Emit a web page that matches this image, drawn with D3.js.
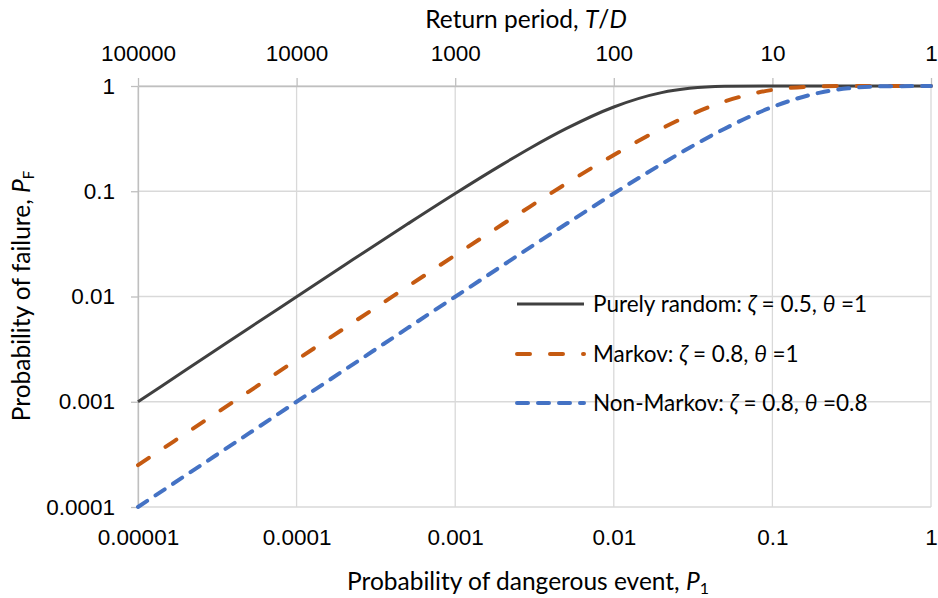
<!DOCTYPE html>
<html>
<head>
<meta charset="utf-8">
<script src="https://cdn.jsdelivr.net/npm/d3@7"></script>
<style>
  body { margin: 0; background: #fff; }
  svg { display: block; font-family: Lato, "Open Sans", sans-serif; }
</style>
</head>
<body>
<svg id="chart" width="938" height="598"></svg>
<script>
// probability of dangerous event (x axis)
const p1 = [1e-5, 2e-5, 3e-5, 5e-5, 1e-4, 2e-4, 3e-4, 5e-4, 1e-3, 2e-3, 3e-3, 5e-3,
            0.01, 0.02, 0.03, 0.05, 0.1, 0.2, 0.3, 0.5, 1]

// probability of failure
const purelyRandom = [0.001, 0.002, 0.003, 0.005, 0.00995, 0.0198, 0.0296, 0.0488, 0.0952, 0.181, 0.259, 0.393,
                      0.632, 0.865, 0.950, 0.993, 1, 1, 1, 1, 1]
const markov = [0.00025, 0.0005, 0.00075, 0.00125, 0.0025, 0.00499, 0.00747, 0.0124, 0.0247, 0.0488, 0.0723, 0.118,
                0.221, 0.394, 0.528, 0.713, 0.918, 0.993, 0.999, 1, 1]
const nonMarkov = [0.0001, 0.0002, 0.0003, 0.0005, 0.001, 0.002, 0.003, 0.005, 0.00995, 0.0198, 0.0296, 0.0488,
                   0.0952, 0.181, 0.259, 0.393, 0.632, 0.865, 0.950, 0.993, 1]

const xTicks = [1e-5, 1e-4, 1e-3, 1e-2, 1e-1, 1]
const xTickLabels = ["0.00001", "0.0001", "0.001", "0.01", "0.1", "1"]
const yTicks = [1e-4, 1e-3, 1e-2, 1e-1, 1]
const yTickLabels = ["0.0001", "0.001", "0.01", "0.1", "1"]
const topTicks = [100000, 10000, 1000, 100, 10, 1]

const series = [
    { name: "Purely random", zeta: "0.5", theta: "1", values: purelyRandom, color: "#404040", width: 3, dash: null },
    { name: "Markov", zeta: "0.8", theta: "1", values: markov, color: "#C55A11", width: 4, dash: "13,20" },
    { name: "Non-Markov", zeta: "0.8", theta: "0.8", values: nonMarkov, color: "#4472C4", width: 4, dash: "11,10" }
]

const plotLeft = 138, plotRight = 931, plotTop = 86, plotBottom = 507
const tickFont = 22.5, titleFont = 24.5
const svg = d3.select("#chart")

const x = d3.scaleLog().domain([1e-5, 1]).range([plotLeft, plotRight])
const y = d3.scaleLog().domain([1e-4, 1]).range([plotBottom, plotTop])
const xTop = d3.scaleLog().domain([1e5, 1]).range([plotLeft, plotRight])

// grid
svg.append("g")
    .selectAll("line")
    .data(xTicks)
    .join("line")
    .attr("x1", d => x(d)).attr("x2", d => x(d))
    .attr("y1", plotTop).attr("y2", plotBottom)
    .attr("stroke", "#d9d9d9").attr("stroke-width", 1.3)

svg.append("g")
    .selectAll("line")
    .data(yTicks)
    .join("line")
    .attr("x1", plotLeft).attr("x2", plotRight)
    .attr("y1", d => y(d)).attr("y2", d => y(d))
    .attr("stroke", "#d9d9d9").attr("stroke-width", 1.3)

// left axis with outward ticks
const yAxis = svg.append("g")
    .attr("transform", `translate(${plotLeft},0)`)
    .call(d3.axisLeft(y).tickValues(yTicks).tickSize(7).tickSizeOuter(0).tickPadding(16)
        .tickFormat((d, i) => yTickLabels[i]))
yAxis.select(".domain").attr("stroke", "#bfbfbf").attr("stroke-width", 1.3)
yAxis.selectAll(".tick line").attr("stroke", "#bfbfbf").attr("stroke-width", 1.3)
yAxis.selectAll("text").attr("font-size", tickFont).attr("fill", "#000").attr("font-family", null)

// top axis: return period
const topAxis = svg.append("g")
    .attr("transform", `translate(0,${plotTop})`)
    .call(d3.axisTop(xTop).tickValues(topTicks).tickSize(8).tickSizeOuter(0).tickPadding(17)
        .tickFormat(d3.format("d")))
topAxis.select(".domain").attr("stroke", "#bfbfbf").attr("stroke-width", 1.3)
topAxis.selectAll(".tick line").attr("stroke", "#bfbfbf").attr("stroke-width", 1.3)
topAxis.selectAll("text").attr("font-size", tickFont).attr("fill", "#000").attr("font-family", null)

// bottom axis labels (no ticks)
const bottomAxis = svg.append("g")
    .attr("transform", `translate(0,${plotBottom})`)
    .call(d3.axisBottom(x).tickValues(xTicks).tickSize(0).tickPadding(22)
        .tickFormat((d, i) => xTickLabels[i]))
bottomAxis.select(".domain").remove()
bottomAxis.selectAll("text").attr("font-size", tickFont).attr("fill", "#000").attr("font-family", null)

// curves
svg.append("clipPath").attr("id", "plot-clip")
    .append("rect").attr("x", plotLeft - 2).attr("y", plotTop - 4)
    .attr("width", plotRight - plotLeft + 4).attr("height", plotBottom - plotTop + 8)

const line = d3.line()
    .x((d, i) => x(p1[i]))
    .y(d => y(d))
    .curve(d3.curveMonotoneX)

svg.append("g")
    .attr("clip-path", "url(#plot-clip)")
    .selectAll("path")
    .data(series)
    .join("path")
    .attr("d", d => line(d.values))
    .attr("fill", "none")
    .attr("stroke", d => d.color)
    .attr("stroke-width", d => d.width)
    .attr("stroke-dasharray", d => d.dash)
    .attr("stroke-linecap", d => d.dash ? "round" : "butt")

// legend
const legendRows = [304, 354, 403]
const legend = svg.append("g")
    .selectAll("g")
    .data(series)
    .join("g")
    .attr("transform", (d, i) => `translate(515,${legendRows[i]})`)

legend.append("line")
    .attr("x1", 2).attr("x2", 69)
    .attr("stroke", d => d.color)
    .attr("stroke-width", d => d.width)
    .attr("stroke-dasharray", d => d.dash)
    .attr("stroke-linecap", d => d.dash ? "round" : "butt")

const legendText = legend.append("text")
    .attr("x", 78).attr("dy", "0.35em")
    .attr("font-size", tickFont)
legendText.append("tspan").text(d => d.name + ": ")
legendText.append("tspan").attr("font-style", "italic").text("ζ")
legendText.append("tspan").text(d => " = " + d.zeta + ", ")
legendText.append("tspan").attr("font-style", "italic").text("θ")
legendText.append("tspan").text(d => " =" + d.theta)

// axis titles
const topTitle = svg.append("text")
    .attr("x", 526).attr("y", 28)
    .attr("text-anchor", "middle")
    .attr("font-size", titleFont)
topTitle.append("tspan").text("Return period, ")
topTitle.append("tspan").attr("font-style", "italic").text("T")
topTitle.append("tspan").text("/")
topTitle.append("tspan").attr("font-style", "italic").text("D")

const xTitle = svg.append("text")
    .attr("x", 528).attr("y", 590)
    .attr("text-anchor", "middle")
    .attr("font-size", titleFont)
xTitle.append("tspan").text("Probability of dangerous event, ")
xTitle.append("tspan").attr("font-style", "italic").text("P")
xTitle.append("tspan").attr("font-size", 16).attr("dy", 4).text("1")

const yTitle = svg.append("text")
    .attr("transform", "translate(30,296) rotate(-90)")
    .attr("text-anchor", "middle")
    .attr("font-size", titleFont)
yTitle.append("tspan").text("Probability of failure, ")
yTitle.append("tspan").attr("font-style", "italic").text("P")
yTitle.append("tspan").attr("font-size", 15).attr("dy", 4).text("F")
</script>
</body>
</html>
